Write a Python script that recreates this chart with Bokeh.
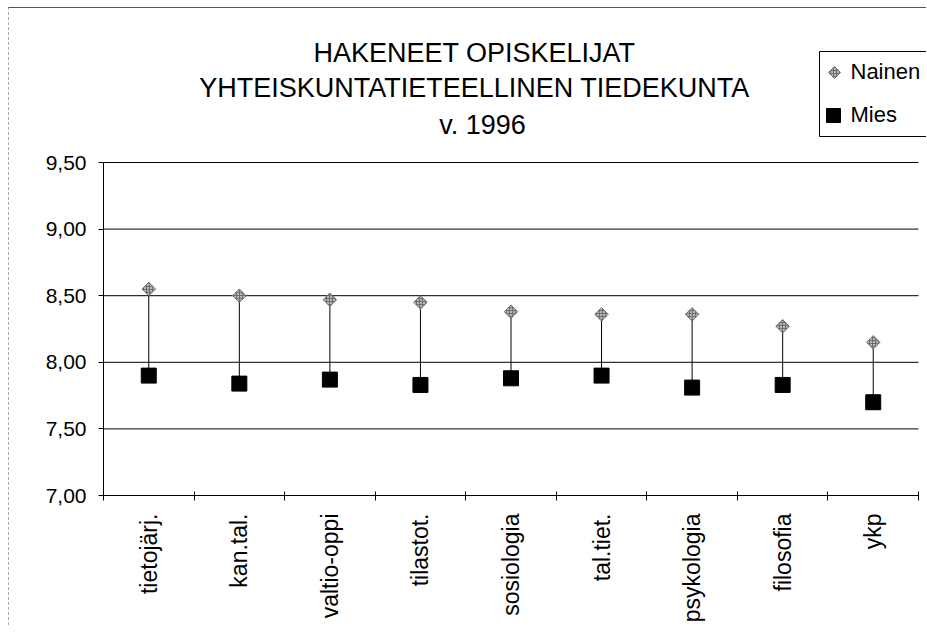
import math
from bokeh.plotting import figure
from bokeh.models import FixedTicker, Range1d, Label, CustomJSTickFormatter
from bokeh.embed import file_html
from bokeh.resources import INLINE

# ---- data ----
categories = ["tietojärj.", "kan.tal.", "valtio-oppi", "tilastot.", "sosiologia",
              "tal.tiet.", "psykologia", "filosofia", "ykp"]
nainen = [8.55, 8.50, 8.47, 8.45, 8.38, 8.36, 8.36, 8.27, 8.15]
mies = [7.90, 7.84, 7.87, 7.83, 7.88, 7.90, 7.81, 7.83, 7.70]
y_ticks = [7.0, 7.5, 8.0, 8.5, 9.0, 9.5]
title_lines = ["HAKENEET OPISKELIJAT", "YHTEISKUNTATIETEELLINEN TIEDEKUNTA", "v. 1996"]
series_names = ["Nainen", "Mies"]

FONT = "'Liberation Sans', Arial, sans-serif"
n = len(categories)
xc = [i + 0.5 for i in range(n)]

# ---- layout (page pixels) ----
PAGE_L, PAGE_T = 9, 8          # canvas origin after CSS margin + border
FR_L, FR_R, FR_B, FR_T = 103, 918, 495, 30
CANVAS_R, CANVAS_B = 927, 626
Y_TOP_TICK = 162
TEXT_SHIFT = 10                # baseline correction for rendered labels
px_per_y = (FR_B - Y_TOP_TICK) / (y_ticks[-1] - y_ticks[0])
px_per_x = (FR_R - FR_L) / n
y_top = y_ticks[-1] + (Y_TOP_TICK - FR_T) / px_per_y
x_end = (CANVAS_R - FR_L) / px_per_x


def dx(px):
    return (px - FR_L) / px_per_x


def dy(py):
    return y_ticks[0] + (FR_B - py) / px_per_y


p = figure(width=CANVAS_R - PAGE_L, height=CANVAS_B - PAGE_T, output_backend="svg",
           toolbar_location=None,
           x_range=Range1d(0, x_end), y_range=Range1d(y_ticks[0], y_top),
           min_border_left=FR_L - PAGE_L, min_border_right=0,
           min_border_top=FR_T - PAGE_T, min_border_bottom=CANVAS_B - FR_B,
           background_fill_color="white", border_fill_color="white")
p.styles = {"margin": "7px 0px 0px 8px", "border-top": "1px solid #555",
            "border-left": "1px dashed #aaa"}
p.outline_line_color = None

# x axis: labels at category centres, ticks at category boundaries
p.xaxis.ticker = FixedTicker(ticks=xc, minor_ticks=list(range(n + 1)))
p.xaxis.bounds = (0, n)
p.xaxis.formatter = CustomJSTickFormatter(args=dict(cats=categories),
                                          code="return cats[Math.round(tick - 0.5)];")
p.xaxis.major_tick_line_color = None
p.xaxis.major_tick_out = 5
p.xaxis.major_tick_in = 0
p.xaxis.minor_tick_line_color = "black"
p.xaxis.minor_tick_in = 4
p.xaxis.minor_tick_out = 5
p.xaxis.major_label_orientation = math.pi / 2
p.xaxis.major_label_standoff = 13
p.xaxis.major_label_text_font = FONT
p.xaxis.major_label_text_font_size = "23px"
p.xaxis.major_label_text_color = "black"
p.xaxis.axis_line_color = "black"

# y axis
p.yaxis.ticker = FixedTicker(ticks=y_ticks, minor_ticks=[])
p.yaxis.bounds = (y_ticks[0], y_ticks[-1])
p.yaxis.formatter = CustomJSTickFormatter(code="return tick.toFixed(2).replace('.', ',');")
p.yaxis.major_tick_out = 5
p.yaxis.major_tick_in = 0
p.yaxis.major_tick_line_color = "black"
p.yaxis.minor_tick_line_color = None
p.yaxis.major_label_standoff = 12
p.yaxis.major_label_text_font = FONT
p.yaxis.major_label_text_font_size = "21px"
p.yaxis.major_label_text_color = "black"
p.yaxis.axis_line_color = "black"

# horizontal gridlines, limited to the category span
p.xgrid.visible = False
p.ygrid.visible = False
p.segment(x0=[0] * len(y_ticks), y0=y_ticks, x1=[n] * len(y_ticks), y1=y_ticks,
          line_color="black", line_width=1)

diamond_style = dict(marker="square", angle=math.pi / 4, fill_color="#b4b4b4",
                     line_color="#6e6e6e", line_width=1, hatch_pattern="cross",
                     hatch_scale=3, hatch_color="#5a5a5a", hatch_weight=0.7)

# high-low lines and markers
p.segment(x0=xc, y0=nainen, x1=xc, y1=mies, line_color="black", line_width=1)
p.scatter(xc, mies, marker="square", size=15, fill_color="black", line_color="black")
p.scatter(xc, nainen, size=9.5, **diamond_style)

# title
title_pos = [(474, 62), (474, 97), (482, 134)]
for txt, (tx, ty) in zip(title_lines, title_pos):
    p.add_layout(Label(x=dx(tx), y=dy(ty - TEXT_SHIFT), text=txt, text_align="center",
                       text_baseline="alphabetic", text_font=FONT,
                       text_font_size="27px", text_color="black"))

# legend (box runs off the right edge as in the original, so no right side)
LG_L, LG_T, LG_B, LG_R = 819, 51, 136, 990
p.segment(x0=[dx(LG_L)] * 3, y0=[dy(LG_T), dy(LG_B), dy(LG_T)],
          x1=[dx(LG_R), dx(LG_R), dx(LG_L)], y1=[dy(LG_T), dy(LG_B), dy(LG_B)],
          line_color="black", line_width=1)
p.scatter([dx(834)], [dy(72)], size=8.5, **diamond_style)
p.scatter([dx(833)], [dy(115)], marker="square", size=14, fill_color="black",
          line_color="black")
for name, ly in zip(series_names, [80, 123]):
    p.add_layout(Label(x=dx(850), y=dy(ly - TEXT_SHIFT + 1), text=name,
                       text_align="left", text_baseline="alphabetic", text_font=FONT,
                       text_font_size="22px", text_color="black"))

open("out.html", "w").write(file_html(p, INLINE))
